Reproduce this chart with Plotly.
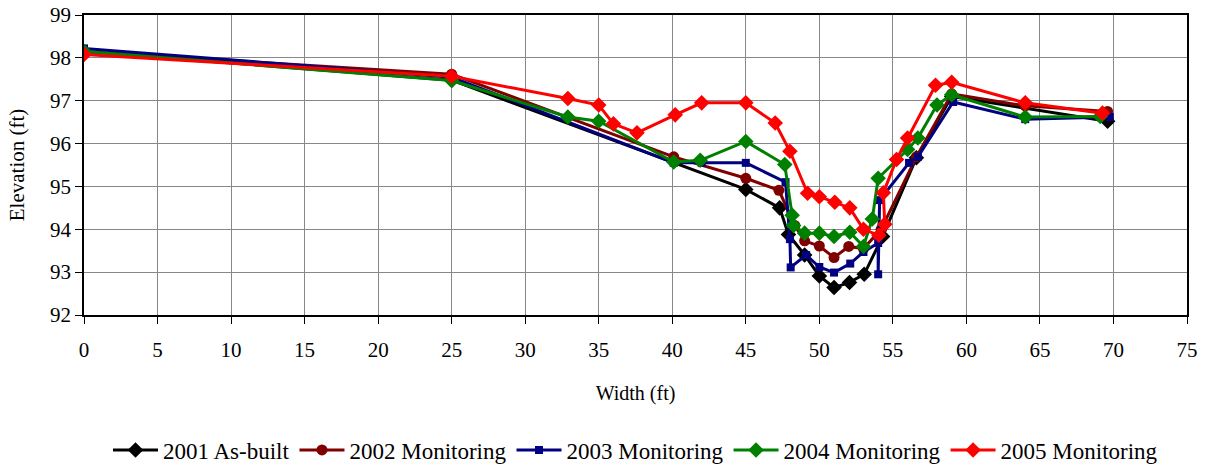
import plotly.graph_objects as go

# ---- data ----
x2001 = [0, 25, 45.0, 47.3, 47.9, 49.0, 50.0, 51.0, 52.05, 53.05, 54.3, 56.6, 59.0, 69.6]
y2001 = [98.15, 97.48, 94.93, 94.5, 93.88, 93.4, 92.91, 92.64, 92.76, 92.95, 93.83, 95.67, 97.1, 96.52]

x2002 = [0, 25, 40.1, 45.0, 47.25, 48.33, 49.0, 50.0, 51.0, 52.0, 53.0, 54.2, 56.6, 59.0, 64.0, 69.6]
y2002 = [98.15, 97.62, 95.69, 95.19, 94.91, 94.09, 93.73, 93.61, 93.34, 93.6, 93.55, 94.0, 95.69, 97.16, 96.88, 96.75]

x2003 = [0, 25, 40.1, 42.0, 45.0, 47.7, 48.0, 48.05, 49.1, 50.0, 51.0, 52.1, 53.0, 54.0, 54.0, 54.1, 56.1, 56.7, 59.1, 64.0, 69.75]
y2003 = [98.22, 97.55, 95.55, 95.55, 95.55, 95.1, 93.77, 93.11, 93.4, 93.12, 92.99, 93.2, 93.47, 93.68, 92.95, 94.68, 95.55, 95.69, 96.97, 96.57, 96.62]

x2004 = [0, 25, 32.9, 35.0, 40.1, 41.9, 45.0, 47.65, 48.15, 48.25, 49.0, 50.0, 51.0, 52.07, 53.0, 53.6, 54.0, 56.0, 56.7, 58.0, 59.0, 64.0, 69.1]
y2004 = [98.15, 97.47, 96.62, 96.52, 95.57, 95.61, 96.05, 95.51, 94.33, 94.09, 93.91, 93.91, 93.83, 93.93, 93.6, 94.24, 95.19, 95.86, 96.13, 96.9, 97.14, 96.62, 96.63]

x2005 = [0, 25, 32.9, 35.0, 36.0, 37.6, 40.2, 42.0, 45.0, 47.0, 48.0, 49.2, 50.0, 51.05, 52.07, 53.0, 54.05, 54.45, 54.35, 55.25, 56.0, 57.9, 59.0, 64.0, 69.25]
y2005 = [98.08, 97.57, 97.05, 96.9, 96.46, 96.25, 96.67, 96.95, 96.95, 96.48, 95.82, 94.84, 94.76, 94.63, 94.5, 94.0, 93.86, 94.12, 94.85, 95.63, 96.13, 97.36, 97.43, 96.95, 96.71]

series = [
    ("2001 As-built", x2001, y2001, "#000000", "diamond", 12),
    ("2002 Monitoring", x2002, y2002, "#800000", "circle", 11),
    ("2003 Monitoring", x2003, y2003, "#000080", "square", 8),
    ("2004 Monitoring", x2004, y2004, "#008000", "diamond", 12),
    ("2005 Monitoring", x2005, y2005, "#FF0000", "diamond", 12),
]

FONT = "Liberation Serif"

fig = go.Figure()
for name, xs, ys, col, sym, sz in series:
    fig.add_trace(go.Scatter(
        x=xs, y=ys, name=name, mode="lines+markers",
        line=dict(color=col, width=3),
        marker=dict(color=col, symbol=sym, size=sz),
    ))

fig.update_layout(
    width=1214, height=468,
    margin=dict(l=84, r=27, t=15, b=153, autoexpand=False),
    paper_bgcolor="white", plot_bgcolor="white",
    font=dict(family=FONT, size=20, color="black"),
    showlegend=True,
    legend=dict(orientation="h", x=0.5, xanchor="center", y=-0.45, yanchor="middle",
                font=dict(family=FONT, size=23, color="black"), itemwidth=45, tracegroupgap=0),
)
fig.update_xaxes(
    range=[0, 75], dtick=5, tick0=0, automargin=False,
    showline=True, linecolor="black", linewidth=1.5, mirror=True,
    showgrid=True, gridcolor="#888888", gridwidth=1,
    ticks="outside", ticklen=7, tickcolor="black",
    ticklabelstandoff=8,
    zeroline=False,
    tickfont=dict(family=FONT, size=21, color="black"),
    title=dict(text="Width (ft)", font=dict(family=FONT, size=20, color="black"), standoff=25),
)
fig.update_yaxes(
    range=[92, 99], dtick=1, tick0=92, automargin=False,
    showline=True, linecolor="black", linewidth=1.5, mirror=True,
    showgrid=True, gridcolor="#888888", gridwidth=1,
    ticks="outside", ticklen=7, tickcolor="black",
    zeroline=False,
    tickfont=dict(family=FONT, size=21, color="black"),
    title=dict(text="Elevation (ft)", font=dict(family=FONT, size=21, color="black"), standoff=20),
)

fig.write_html("out.html")
